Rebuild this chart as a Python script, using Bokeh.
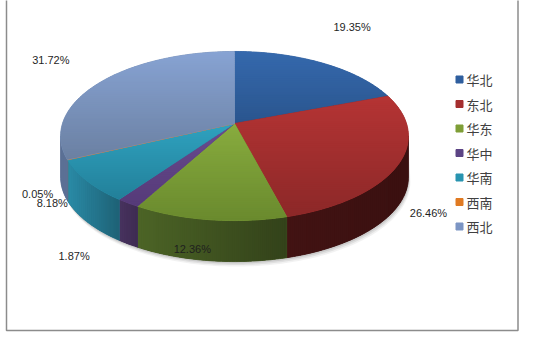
import numpy as np
from bokeh.plotting import figure
from bokeh.models import Range1d, ColumnDataSource
from bokeh.core.properties import value
from bokeh.embed import file_html
from bokeh.resources import INLINE

# ---------------- data ----------------
regions = ["华北", "东北", "华东", "华中", "华南", "西南", "西北"]
shares = [19.35, 26.46, 12.36, 1.87, 8.18, 0.05, 31.72]
labels = ["19.35%", "26.46%", "12.36%", "1.87%", "8.18%", "0.05%", "31.72%"]

# ---------------- style ----------------
top_light = ["#3569AD", "#B53434", "#88AC3E", "#6A4C90", "#2FA2BF", "#F08A30", "#87A3D3"]
top_dark = ["#2A558E", "#8C2828", "#6A8A2E", "#553A78", "#22809A", "#C86E20", "#6B80A2"]
side_left = ["#22467A", "#421313", "#4C6426", "#48335F", "#2A8BA7", "#A0521A", "#5B7095"]
side_right = ["#22467A", "#3A1010", "#33421A", "#3E2B52", "#1E6276", "#A0521A", "#5B7095"]
legend_colors = ["#2E5E9E", "#A52F2F", "#7E9E36", "#5C4485", "#2894B0", "#E07A22", "#7C95C4"]
label_offsets = [(30, -36), (30, 49), (-17, 29), (-54, 53), (-35, 22), (-30, 34), (-50, -22)]

W, H = 547, 337
CX, CY, A, B, C, DEPTH = 234.0, 123.0, 172.0, 82.7, 0.148, 41.0


def proj(theta, r=1.0):
    u = r * np.sin(theta)
    v = r * np.cos(theta)
    d = 1 + C * v
    return CX + A * u / d, CY - B * v / d


def hex2rgb(h):
    h = h.lstrip("#")
    return np.array([int(h[i:i + 2], 16) for i in (0, 2, 4)], dtype=float)


def mix(c0, c1, t):
    a, b = hex2rgb(c0), hex2rgb(c1)
    m = a + (b - a) * t
    return "#%02x%02x%02x" % tuple(int(round(x)) for x in m)


def clip_half(pts, keep, inter):
    out = []
    n = len(pts)
    for i in range(n):
        cur, prev = pts[i], pts[i - 1]
        cin, pin = keep(cur), keep(prev)
        if cin:
            if not pin:
                out.append(inter(prev, cur))
            out.append(cur)
        elif pin:
            out.append(inter(prev, cur))
    return out


def clip(poly, axis, lo, hi):
    def inter_at(val):
        def f(p, q):
            t = (val - p[axis]) / (q[axis] - p[axis])
            return (p[0] + t * (q[0] - p[0]), p[1] + t * (q[1] - p[1]))
        return f
    pts = clip_half(poly, lambda p: p[axis] >= lo, inter_at(lo))
    if len(pts) < 3:
        return []
    pts = clip_half(pts, lambda p: p[axis] <= hi, inter_at(hi))
    return pts


layers = {"xs": [], "ys": [], "fc": [], "lc": [], "lw": []}


def add_poly(poly, fc, lc=None, lw=0.0):
    layers["xs"].append([p[0] for p in poly])
    layers["ys"].append([p[1] for p in poly])
    layers["fc"].append(fc)
    layers["lc"].append(lc if lc else fc)
    layers["lw"].append(lw)


def gradient(poly, axis, c0, c1, step=2.0):
    vals = [p[axis] for p in poly]
    lo, hi = min(vals), max(vals)
    add_poly(poly, mix(c0, c1, 0.5), mix(c0, c1, 0.5), 0.8)
    n = max(1, int(np.ceil((hi - lo) / step)))
    for i in range(n):
        a = lo + i * (hi - lo) / n
        b = lo + (i + 1) * (hi - lo) / n
        part = clip(poly, axis, a - 0.4, b + 0.4)
        if len(part) >= 3:
            add_poly(part, mix(c0, c1, (i + 0.5) / n))


total = sum(shares)
bounds = np.concatenate([[0.0], np.cumsum(shares) / total * 2 * np.pi])
theta_r = np.arccos(-C)
theta_l = 2 * np.pi - theta_r

# shadow under the pie
shadow_src = {"xs": [], "ys": [], "a": []}
for k, al in [(5, 0.05), (3.5, 0.07), (2, 0.09)]:
    th = np.linspace(theta_r, theta_l, 120)
    xs, ys = proj(th)
    sx = list(xs + k * 0.4) + list(xs[::-1])
    sy = list(ys + DEPTH + k) + list(ys[::-1])
    shadow_src["xs"].append(sx)
    shadow_src["ys"].append(sy)
    shadow_src["a"].append(al)

# sides (front visible part of the rim)
for i in range(len(shares)):
    t1, t2 = max(bounds[i], theta_r), min(bounds[i + 1], theta_l)
    if t2 - t1 <= 1e-4:
        continue
    th = np.linspace(t1, t2, max(4, int((t2 - t1) * 60)))
    xs, ys = proj(th)
    poly = list(zip(xs, ys)) + list(zip(xs[::-1], ys[::-1] + DEPTH))
    gradient(poly, 0, side_left[i], side_right[i])

# top faces
for i in range(len(shares)):
    t1, t2 = bounds[i], bounds[i + 1]
    th = np.linspace(t1, t2, max(4, int((t2 - t1) * 60)))
    xs, ys = proj(th)
    poly = [(CX, CY)] + list(zip(xs, ys))
    gradient(poly, 1, top_light[i], top_dark[i])

p = figure(width=W, height=H, output_backend="svg", toolbar_location=None,
           x_range=Range1d(0, W), y_range=Range1d(H, 0), min_border=0)
p.axis.visible = False
p.grid.visible = False
p.outline_line_color = None
p.background_fill_color = "white"
p.border_fill_color = "white"

p.patches("xs", "ys", source=ColumnDataSource(shadow_src), fill_color="#000000",
          fill_alpha="a", line_color=None)
p.patches("xs", "ys", source=ColumnDataSource(layers), fill_color="fc",
          line_color="lc", line_width="lw")

# data labels
lx, ly = [], []
for i in range(len(shares)):
    mid = (bounds[i] + bounds[i + 1]) / 2
    x0, y0 = proj(mid)
    lx.append(float(x0) + label_offsets[i][0])
    ly.append(float(y0) + label_offsets[i][1])
p.text(x=lx, y=ly, text=labels, text_font=value("Liberation Sans"), text_font_size="11px",
       text_color="#1F1F1F", text_align="center", text_baseline="middle")

# legend
leg_y = [79 + 24.5 * k for k in range(len(regions))]
p.scatter(x=[459] * len(regions), y=leg_y, marker="square", size=7,
          fill_color=legend_colors, line_color=legend_colors)
p.text(x=[466] * len(regions), y=leg_y, text=regions, text_font=value("Noto Sans CJK SC"),
       text_font_size="13px", text_color="#404040", text_align="left", text_baseline="middle")

# frame
p.line(x=[6, 6, 517.5, 517.5], y=[-5, 330, 330, -5], line_color="#8C8C8C", line_width=1.5)

open("out.html", "w").write(file_html(p, INLINE))
